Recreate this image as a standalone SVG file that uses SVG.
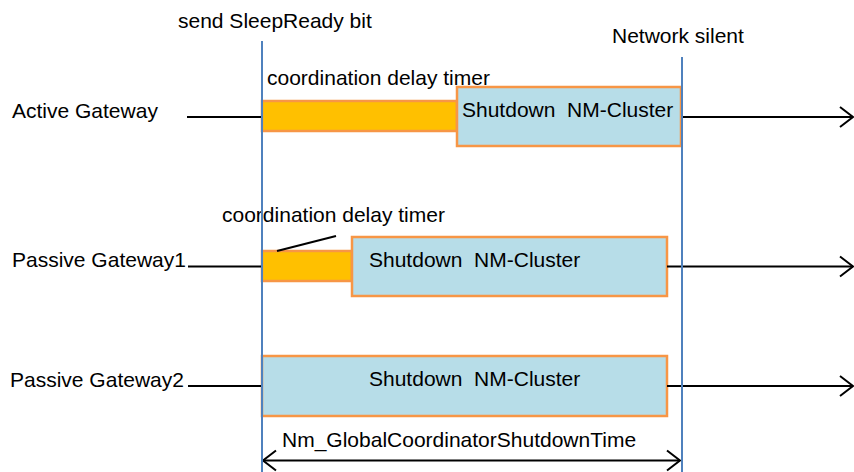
<svg xmlns="http://www.w3.org/2000/svg" width="854" height="472" viewBox="0 0 854 472">
<style>
text{font-family:"Liberation Sans",Arial,sans-serif;font-size:21px;fill:#000;white-space:pre}
.ln{stroke:#000;stroke-width:2;fill:none}
.bar{fill:#FFC000;stroke:#F79646;stroke-width:2.5}
.box{fill:#B7DDE8;stroke:#F79646;stroke-width:2.5}
.time{stroke:#4F81BD;stroke-width:2;fill:none}
</style>
<defs>
<marker id="ah" markerUnits="userSpaceOnUse" markerWidth="16" markerHeight="24" viewBox="-14 -11 16 22" refX="0" refY="0" orient="auto-start-reverse">
<path d="M-13,-10 L0,0 L-13,10" fill="none" stroke="#000" stroke-width="2"/>
</marker>
</defs>
<g id="labels">
<text x="178" y="28">send SleepReady bit</text>
<text x="612" y="43">Network silent</text>
</g>
<g id="active-gateway">
<text x="12" y="118">Active Gateway</text>
<text x="267" y="85">coordination delay timer</text>
<rect class="bar" x="262" y="101" width="195" height="30"/>
<rect class="box" x="457" y="87" width="224" height="59"/>
<text x="462" y="117" xml:space="preserve">Shutdown  NM-Cluster</text>
</g>
<g id="passive-gateway1">
<text x="12" y="267">Passive Gateway1</text>
<text x="222" y="222">coordination delay timer</text>
<rect class="bar" x="262" y="251" width="90" height="30"/>
<rect class="box" x="352" y="237" width="315" height="59"/>
<text x="369" y="267" xml:space="preserve">Shutdown  NM-Cluster</text>
</g>
<g id="passive-gateway2">
<text x="10" y="387">Passive Gateway2</text>
<rect class="box" x="262" y="356" width="405" height="60"/>
<text x="369" y="386" xml:space="preserve">Shutdown  NM-Cluster</text>
</g>
<g id="connectors">
<line class="ln" x1="187" y1="117" x2="262" y2="117"/>
<line class="ln" x1="681" y1="117" x2="853" y2="117" marker-end="url(#ah)"/>
<line class="ln" x1="188" y1="266.5" x2="262" y2="266.5"/>
<line class="ln" x1="667" y1="266.5" x2="853" y2="266.5" marker-end="url(#ah)"/>
<line class="ln" x1="277" y1="251" x2="336" y2="236"/>
<line class="ln" x1="188" y1="386" x2="262" y2="386"/>
<line class="ln" x1="667" y1="386" x2="853" y2="386" marker-end="url(#ah)"/>
<line class="ln" x1="263" y1="460.5" x2="680" y2="460.5" marker-start="url(#ah)" marker-end="url(#ah)"/>
<text x="282" y="447">Nm_GlobalCoordinatorShutdownTime</text>
</g>
<g id="timelines">
<line class="time" x1="262" y1="41" x2="262" y2="472"/>
<line class="time" x1="682" y1="57" x2="682" y2="472"/>
</g>
</svg>
